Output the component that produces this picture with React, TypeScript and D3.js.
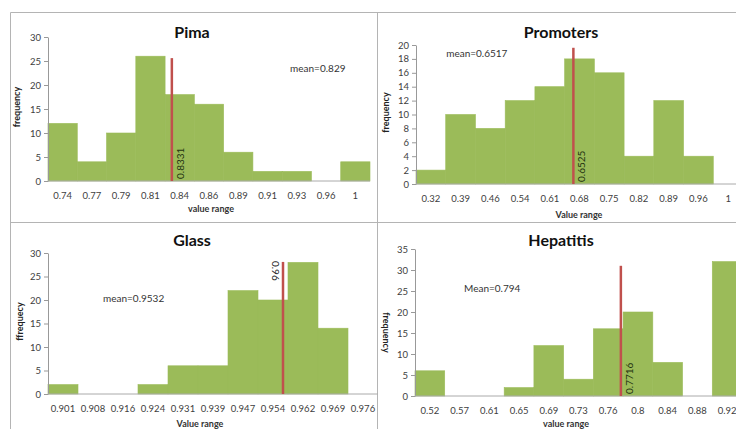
import React, { useEffect, useRef } from "react"
import * as d3 from "d3"

// bins (tick labels) and frequencies, one set per dataset
const pimaBins = ["0.74", "0.77", "0.79", "0.81", "0.84", "0.86", "0.89", "0.91", "0.93", "0.96", "1"]
const pimaFreq = [12, 4, 10, 26, 18, 16, 6, 2, 2, 0, 4]

const promBins = ["0.32", "0.39", "0.46", "0.54", "0.61", "0.68", "0.75", "0.82", "0.89", "0.96", "1"]
const promFreq = [2, 10, 8, 12, 14, 18, 16, 4, 12, 4, 0]

const glassBins = ["0.901", "0.908", "0.916", "0.924", "0.931", "0.939", "0.947", "0.954", "0.962", "0.969", "0.976"]
const glassFreq = [2, 0, 0, 2, 6, 6, 22, 20, 28, 14, 0]

const hepBins = ["0.52", "0.57", "0.61", "0.65", "0.69", "0.73", "0.76", "0.8", "0.84", "0.88", "0.92"]
const hepFreq = [6, 0, 0, 2, 12, 4, 16, 20, 8, 0, 32]

const titles = ["Pima", "Promoters", "Glass", "Hepatitis"]
const yLabels = ["frequency", "frequency", "ffrequecy", "frequency"]
const xLabels = ["value range", "Value range", "Value range", "value range"]
const yMaxes = [30, 20, 30, 35]
const ySteps = [5, 2, 5, 5]
const meanTexts = ["mean=0.829", "mean=0.6517", "mean=0.9532", "Mean=0.794"]
const meanAt = [[0.942, 22.7], [0.355, 18.3], [0.911, 19.6], [0.566, 24.8]]
const markerTexts = ["0.8331", "0.6525", "0.96", "0.7716"]
const markerAt = [0.837, 0.646, 0.956, 0.777]
const markerTop = [25.6, 19.6, 28.1, 31]

const GREEN = "#9bbb59"
const RED = "#c0504d"
const GRID = "#b4b4b4"
const FONT = "Lato, 'Open Sans', sans-serif"

// placement of each panel's plot area in the page
const panels = [
    { bins: pimaBins, freq: pimaFreq, left: 48, right: 370, top: 37, bottom: 181, cx: 192, ylx: 17, xlx: 211, xly: 212, titleY: 38, markerSide: 1, ylRot: -90 },
    { bins: promBins, freq: promFreq, left: 416, right: 743, top: 45, bottom: 184, cx: 561, ylx: 386, xlx: 579, xly: 218, titleY: 38, markerSide: 1, ylRot: -90 },
    { bins: glassBins, freq: glassFreq, left: 48, right: 378, top: 253, bottom: 394, cx: 192, ylx: 20, xlx: 200, xly: 427, titleY: 246, markerSide: -1, ylRot: -90 },
    { bins: hepBins, freq: hepFreq, left: 415, right: 742, top: 249, bottom: 396, cx: 561, ylx: 386, xlx: 566, xly: 427, titleY: 246, markerSide: 1, ylRot: 90 },
]

const App = () => {
    const ref = useRef(null)

    useEffect(() => {
        const svg = d3.select(ref.current)
        svg.selectAll("*").remove()
        svg.attr("width", 736).attr("height", 429).style("font-family", FONT)

        svg.append("rect").attr("width", 736).attr("height", 429).attr("fill", "#fff")

        // frame lines
        const frame = svg.append("g").attr("stroke", GRID).attr("stroke-width", 1)
        frame.append("line").attr("x1", 10.5).attr("x2", 10.5).attr("y1", 12.5).attr("y2", 429)
        frame.append("line").attr("x1", 10.5).attr("x2", 736).attr("y1", 12.5).attr("y2", 12.5)
        frame.append("line").attr("x1", 377.5).attr("x2", 377.5).attr("y1", 12.5).attr("y2", 429)
        frame.append("line").attr("x1", 10.5).attr("x2", 736).attr("y1", 222.5).attr("y2", 222.5)

        panels.forEach((p, i) => {
            const g = svg.append("g")
            const n = p.bins.length

            const x = d3.scaleBand().domain(p.bins).range([p.left, p.right]).padding(0)
            const y = d3.scaleLinear().domain([0, yMaxes[i]]).range([p.bottom, p.top])

            // linear value scale for annotations, bins read as centres
            const first = +p.bins[0]
            const last = +p.bins[n - 1]
            const step = (last - first) / (n - 1)
            const xv = d3.scaleLinear().domain([first - step / 2, last + step / 2]).range([p.left, p.right])

            g.selectAll(".bar")
                .data(p.freq.map((v, k) => ({ bin: p.bins[k], v })))
                .enter().append("rect")
                .attr("x", d => x(d.bin))
                .attr("width", x.bandwidth())
                .attr("y", d => y(d.v))
                .attr("height", d => p.bottom - y(d.v))
                .attr("fill", GREEN)
                .attr("stroke", GREEN)
                .attr("stroke-width", 0.6)

            const yAxis = g.append("g")
                .attr("transform", `translate(${p.left},0)`)
                .call(d3.axisLeft(y).tickValues(d3.range(0, yMaxes[i] + 0.001, ySteps[i])).tickSize(4).tickSizeOuter(0).tickPadding(3))
            yAxis.selectAll("text").attr("font-size", 9.5).attr("fill", "#404040").style("font-family", FONT)
            yAxis.selectAll("line, path").attr("stroke", "#999")

            const xAxis = g.append("g")
                .attr("transform", `translate(0,${p.bottom})`)
                .call(d3.axisBottom(x).tickSize(0).tickPadding(11))
            xAxis.select(".domain").attr("stroke", "#aaa")
            xAxis.selectAll("text").attr("font-size", 9.5).attr("fill", "#404040").style("font-family", FONT)
            xAxis.select(".domain").attr("d", `M${p.left},0H${Math.min(p.right, 736)}`)

            // red marker line
            const mx = xv(markerAt[i])
            g.append("line")
                .attr("x1", mx).attr("x2", mx)
                .attr("y1", y(markerTop[i])).attr("y2", p.bottom)
                .attr("stroke", RED).attr("stroke-width", 2.5)

            if (p.markerSide > 0) {
                g.append("text")
                    .attr("transform", `translate(${mx + 12},${p.bottom - 2}) rotate(-90)`)
                    .attr("font-size", 10).attr("fill", "#1f3310")
                    .text(markerTexts[i])
            } else {
                g.append("text")
                    .attr("transform", `translate(${mx - 11},${y(markerTop[i]) - 1}) rotate(90)`)
                    .attr("font-size", 10).attr("fill", "#222")
                    .text(markerTexts[i])
            }

            g.append("text")
                .attr("x", xv(meanAt[i][0])).attr("y", y(meanAt[i][1]))
                .attr("font-size", 10).attr("fill", "#333")
                .text(meanTexts[i])

            g.append("text")
                .attr("x", p.cx).attr("y", p.titleY)
                .attr("text-anchor", "middle")
                .attr("font-size", 16).attr("font-weight", "bold").attr("fill", "#111")
                .text(titles[i])

            g.append("text")
                .attr("x", p.xlx).attr("y", p.xly)
                .attr("text-anchor", "middle")
                .attr("font-size", 9).attr("font-weight", "bold").attr("fill", "#333")
                .text(xLabels[i])

            const ymid = (p.top + p.bottom) / 2
            g.append("text")
                .attr("transform", `translate(${p.ylx + (p.ylRot < 0 ? 3 : -3)},${ymid + (i === 3 ? 10 : -2)}) rotate(${p.ylRot})`)
                .attr("text-anchor", "middle")
                .attr("font-size", 9).attr("font-weight", "bold").attr("fill", "#222")
                .text(yLabels[i])
        })
    }, [])

    return (
        <div style={{ position: "fixed", left: 0, top: 0 }}>
            <svg ref={ref} />
        </div>
    )
}

export default App
